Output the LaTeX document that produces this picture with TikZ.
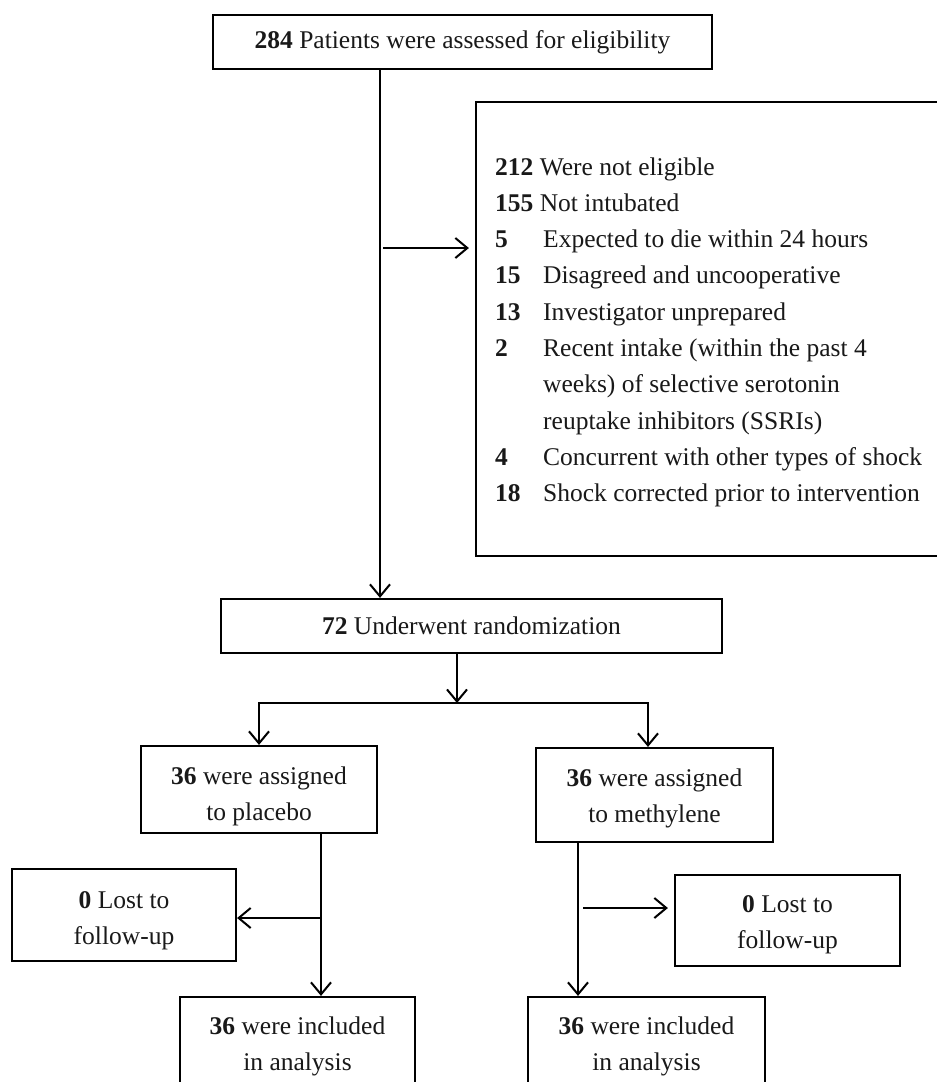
\documentclass[tikz,border=0pt]{standalone}
\usepackage{fontspec}
\setmainfont{Liberation Serif}
\usetikzlibrary{arrows.meta,calc}
\newcommand\twolines[3][3pt]{\raisebox{-#1}[\height][\depth]{\begin{tabular}{@{}c@{}}#2\\#3\end{tabular}}}
\begin{document}
\begin{tikzpicture}[x=1pt,y=-1pt,
  txt/.style={font=\fontsize{25.5}{36.3}\selectfont, text=black!90},
  box/.style={txt, draw, line width=2.2pt, inner sep=0pt, align=center},
  conn/.style={line width=2pt},
  arr/.style={conn, -{Straight Barb[length=12pt,width=20pt]}},
]
\useasboundingbox[fill=white] (0,0) rectangle (937,1082);

% boxes
\node[box, minimum width=499pt, minimum height=54pt] (top) at (462.5,42) {\textbf{284} Patients were assessed for eligibility};
\node[box, minimum width=484pt, minimum height=454pt] (excl) at (718,329) {};
\node[txt, anchor=base west, inner sep=0pt] (exlist) at (495,175) {%
\begin{tabular}[t]{@{}p{48pt}@{}l@{}}
\multicolumn{2}{@{}l@{}}{\textbf{212} Were not eligible}\\
\multicolumn{2}{@{}l@{}}{\textbf{155} Not intubated}\\
\textbf{5} & Expected to die within 24 hours\\
\textbf{15} & Disagreed and uncooperative\\
\textbf{13} & Investigator unprepared\\
\textbf{2} & Recent intake (within the past 4\\
 & weeks) of selective serotonin\\
 & reuptake inhibitors (SSRIs)\\
\textbf{4} & Concurrent with other types of shock\\
\textbf{18} & Shock corrected prior to intervention
\end{tabular}};
\node[box, minimum width=501pt, minimum height=54pt] (rand) at (471.5,626) {\textbf{72} Underwent randomization};
\node[box, minimum width=236pt, minimum height=87pt] (plac) at (259,789.5) {\twolines[5.5pt]{\textbf{36} were assigned}{to placebo}};
\node[box, minimum width=237pt, minimum height=94pt] (meth) at (654.5,795) {\twolines[2pt]{\textbf{36} were assigned}{to methylene}};
\node[box, minimum width=224pt, minimum height=92pt] (lost1) at (124,915) {\twolines[4pt]{\textbf{0} Lost to}{follow-up}};
\node[box, minimum width=225pt, minimum height=91pt] (lost2) at (787.5,920.5) {\twolines[3pt]{\textbf{0} Lost to}{follow-up}};
\node[box, minimum width=235pt, minimum height=93pt] (inc1) at (297.5,1043.5) {\twolines[1.5pt]{\textbf{36} were included}{in analysis}};
\node[box, minimum width=237pt, minimum height=93pt] (inc2) at (646.5,1043.5) {\twolines[1.5pt]{\textbf{36} were included}{in analysis}};

% connectors
\coordinate (ex1) at (380,248);
\draw[arr] (top.south -| ex1) -- (rand.north -| ex1);
\draw[arr, shorten >=6pt] ($(ex1)+(3,0)$) -- (excl.west |- ex1);

\coordinate (br) at (457,703);
\coordinate (br2) at (648,703);
\draw[arr] (rand.south -| br) -- (br);
\draw[arr] (br) -| (plac.north);
\draw[arr] (br) -- (br2) -- (meth.north -| br2);

\coordinate (pl) at (321,918);
\draw[arr] (plac.south -| pl) -- (inc1.north -| pl);
\draw[arr] (pl) -- (lost1.east |- pl);

\coordinate (ml) at (578,908);
\draw[arr] (meth.south -| ml) -- (inc2.north -| ml);
\draw[arr, shorten >=6pt] ($(ml)+(5,0)$) -- (lost2.west |- ml);
\end{tikzpicture}
\end{document}
